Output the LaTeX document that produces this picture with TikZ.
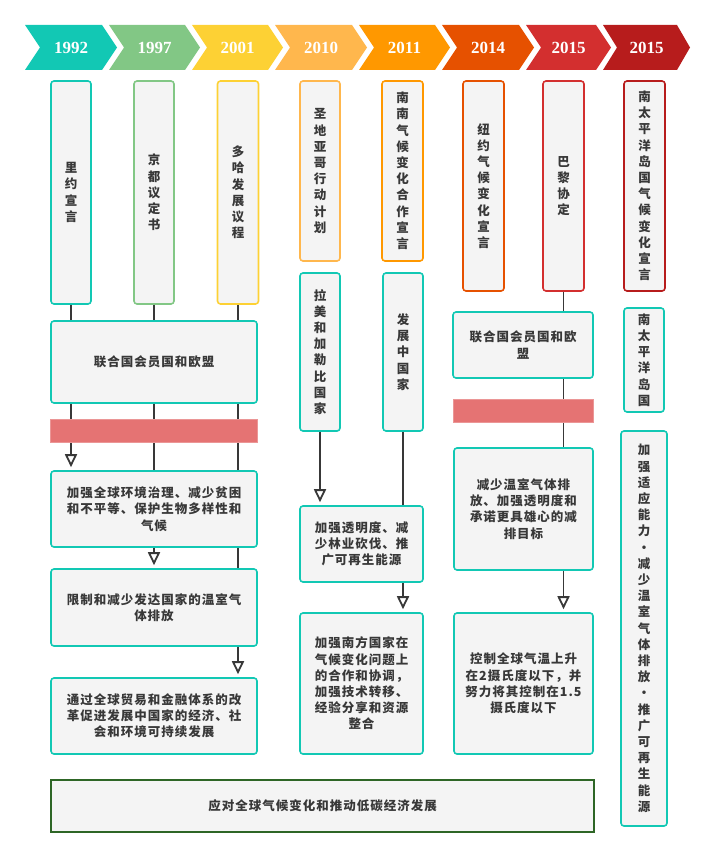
\documentclass[tikz,border=0pt]{standalone}
\usepackage{fontspec}
\usepackage{tikz}
\usetikzlibrary{arrows.meta}

\newfontfamily\cjk[LetterSpace=8]{Noto Sans CJK SC}
\newfontfamily\yearfont{Liberation Serif}

\definecolor{tealc}{HTML}{12C8B4}
\definecolor{greenc}{HTML}{82C785}
\definecolor{yellowc}{HTML}{FDD134}
\definecolor{lorange}{HTML}{FFB74D}
\definecolor{orangec}{HTML}{FF9800}
\definecolor{dorange}{HTML}{E65100}
\definecolor{redc}{HTML}{D32F2F}
\definecolor{dred}{HTML}{B71C1C}
\definecolor{cardbg}{HTML}{F4F4F4}
\definecolor{ink}{HTML}{383838}
\definecolor{barred}{HTML}{E57373}
\definecolor{goalgreen}{HTML}{2E6626}

\tikzset{
  card/.style={draw=#1, fill=cardbg, line width=1.6pt, rounded corners=3pt,
    inner sep=0pt, align=center, text=ink,
    font=\cjk\bfseries\fontsize{12.5}{16.2}\selectfont},
  card/.default=tealc,
  yearlbl/.style={text=white, font=\yearfont\bfseries\fontsize{17}{17}\selectfont},
  link/.style={draw=ink, line width=1.8pt},
  push/.style={link, -{Triangle[open, length=13pt, width=12pt]}, shorten >=3pt},
  redbar/.style={fill=barred, draw=barred!75!white, line width=0.6pt}
}

\begin{document}
\begin{tikzpicture}[x=1pt,y=-1pt]
\path (0,0) rectangle (715,856);

% timeline
\fill[tealc] (25,25) -- (102,25) -- (117,47.5) -- (102,70) -- (25,70) -- (40,47.5) -- cycle;
\fill[greenc] (109,25) -- (185,25) -- (200,47.5) -- (185,70) -- (109,70) -- (124,47.5) -- cycle;
\fill[yellowc] (192,25) -- (268,25) -- (283,47.5) -- (268,70) -- (192,70) -- (207,47.5) -- cycle;
\fill[lorange] (275,25) -- (352,25) -- (367,47.5) -- (352,70) -- (275,70) -- (290,47.5) -- cycle;
\fill[orangec] (359,25) -- (435,25) -- (450,47.5) -- (435,70) -- (359,70) -- (374,47.5) -- cycle;
\fill[dorange] (442,25) -- (519,25) -- (534,47.5) -- (519,70) -- (442,70) -- (457,47.5) -- cycle;
\fill[redc] (526,25) -- (596,25) -- (611,47.5) -- (596,70) -- (526,70) -- (541,47.5) -- cycle;
\fill[dred] (603,25) -- (677,25) -- (690,47.5) -- (677,70) -- (603,70) -- (617,47.5) -- cycle;
\node[yearlbl] (y1992) at (71,48) {1992};
\node[yearlbl] (y1997) at (154.5,48) {1997};
\node[yearlbl] (y2001) at (237.5,48) {2001};
\node[yearlbl] (y2010) at (321,48) {2010};
\node[yearlbl] (y2011) at (404.5,48) {2011};
\node[yearlbl] (y2014) at (488,48) {2014};
\node[yearlbl] (y2015a) at (568.5,48) {2015};
\node[yearlbl] (y2015b) at (646.5,48) {2015};

% documents
\node[card=tealc, minimum width=40pt, minimum height=223pt] (riyue) at (71,192.5) {里\\约\\宣\\言};
\node[card=greenc, minimum width=40pt, minimum height=223pt] (jingdu) at (154,192.5) {京\\都\\议\\定\\书};
\node[card=yellowc, minimum width=41pt, minimum height=223pt] (duoha) at (238,192.5) {多\\哈\\发\\展\\议\\程};
\node[card=lorange, minimum width=40pt, minimum height=180pt] (shengdi) at (320,171) {圣\\地\\亚\\哥\\行\\动\\计\\划};
\node[card=orangec, minimum width=41pt, minimum height=180pt] (nannan) at (402.5,171) {南\\南\\气\\候\\变\\化\\合\\作\\宣\\言};
\node[card=dorange, minimum width=41pt, minimum height=210pt] (niuyue) at (483.5,186) {纽\\约\\气\\候\\变\\化\\宣\\言};
\node[card=redc, minimum width=41pt, minimum height=210pt] (bali) at (563.5,186) {巴\\黎\\协\\定};
\node[card=dred, minimum width=41pt, minimum height=210pt] (nantai) at (644.5,186) {南\\太\\平\\洋\\岛\\国\\气\\候\\变\\化\\宣\\言};

% parties
\node[card, minimum width=206pt, minimum height=82pt] (lianhe1) at (154,362) {联合国会员国和欧盟};
\node[card, minimum width=40pt, minimum height=158pt] (lamei) at (320,352) {拉\\美\\和\\加\\勒\\比\\国\\家};
\node[card, minimum width=40pt, minimum height=158pt] (fazhan) at (403,352) {发\\展\\中\\国\\家};
\node[card, minimum width=140pt, minimum height=66pt] (lianhe2) at (523,345) {联合国会员国和欧\\盟};
\node[card, minimum width=40pt, minimum height=104pt] (nantaiguo) at (644,360) {南\\太\\平\\洋\\岛\\国};

% goals
\node[card, minimum width=206pt, minimum height=76pt] (huanjing) at (154,509) {加强全球环境治理、减少贫困\\和不平等、保护生物多样性和\\气候};
\node[card, minimum width=206pt, minimum height=77pt] (xianzhi) at (154,607.5) {限制和减少发达国家的温室气\\体排放};
\node[card, minimum width=206pt, minimum height=76pt] (maoyi) at (154,716) {通过全球贸易和金融体系的改\\革促进发展中国家的经济、社\\会和环境可持续发展};
\node[card, minimum width=123pt, minimum height=76pt] (toumingdu) at (361.5,544) {加强透明度、减\\少林业砍伐、推\\广可再生能源};
\node[card, minimum width=123pt, minimum height=141pt] (nanfang) at (361.5,683.5) {加强南方国家在\\气候变化问题上\\的合作和协调，\\加强技术转移、\\经验分享和资源\\整合};
\node[card, minimum width=139pt, minimum height=122pt] (jianpai) at (523.5,509) {减少温室气体排\\放、加强透明度和\\承诺更具雄心的减\\排目标};
\node[card, minimum width=139pt, minimum height=141pt] (kongzhi) at (523.5,683.5) {控制全球气温上升\\在2摄氏度以下，并\\努力将其控制在1.5\\摄氏度以下};
\node[card, minimum width=46pt, minimum height=395pt] (shiying) at (644,628.5) {加\\强\\适\\应\\能\\力\\·\\减\\少\\温\\室\\气\\体\\排\\放\\·\\推\\广\\可\\再\\生\\能\\源};
\node[card=goalgreen, rounded corners=0pt, line width=2pt, minimum width=543pt, minimum height=52pt] (tiaozhan) at (322.5,806) {应对全球气候变化和推动低碳经济发展};

% connectors
\draw[link] (riyue.south) -- (riyue.south |- lianhe1.north);
\draw[push] (riyue.south |- lianhe1.south) -- (riyue.south |- huanjing.north);
\draw[link] (jingdu.south) -- (jingdu.south |- lianhe1.north);
\draw[link] (jingdu.south |- lianhe1.south) -- (jingdu.south |- huanjing.north);
\draw[push] (jingdu.south |- huanjing.south) -- (jingdu.south |- xianzhi.north);
\draw[link] (duoha.south) -- (duoha.south |- lianhe1.north);
\draw[link] (duoha.south |- lianhe1.south) -- (duoha.south |- huanjing.north);
\draw[link] (duoha.south |- huanjing.south) -- (duoha.south |- xianzhi.north);
\draw[push] (duoha.south |- xianzhi.south) -- (duoha.south |- maoyi.north);
\draw[push] (lamei.south) -- (lamei.south |- toumingdu.north);
\draw[link] (fazhan.south) -- (fazhan.south |- toumingdu.north);
\draw[push] (fazhan.south |- toumingdu.south) -- (fazhan.south |- nanfang.north);
\draw[link] (bali.south) -- (bali.south |- lianhe2.north);
\draw[link] (bali.south |- lianhe2.south) -- (bali.south |- jianpai.north);
\draw[push] (bali.south |- jianpai.south) -- (bali.south |- kongzhi.north);

% bars
\draw[redbar] (50,419) rectangle (257,442);
\draw[redbar] (453,399) rectangle (593,422);
\end{tikzpicture}
\end{document}
